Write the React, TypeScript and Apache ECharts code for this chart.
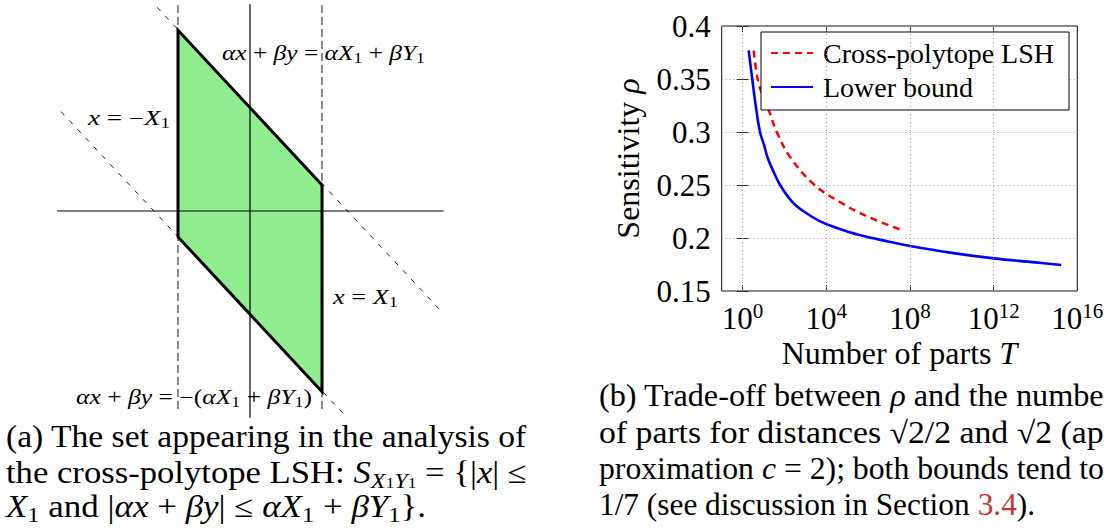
import React, { useEffect, useRef } from 'react';
import * as echarts from 'echarts';

const SERIF = 'Liberation Serif, serif';
const LINK_RED = '#c83232';

// ---- Trade-off plot: exponent log10(T) against sensitivity rho ----
const lowerBoundLogT = [0.29, 0.46, 0.62, 0.83, 1.02, 1.2, 1.47, 1.79, 2.35, 2.91, 3.71, 4.51, 5.63, 7.0, 8.0, 10.0, 12.0, 14.0, 15.23];
const lowerBoundRho = [0.377, 0.35, 0.326, 0.3, 0.288, 0.2755, 0.2629, 0.25, 0.2346, 0.2252, 0.2157, 0.2094, 0.2025, 0.1965, 0.1925, 0.186, 0.1808, 0.177, 0.1745];
const crossPolytopeLogT = [0.53, 0.72, 0.98, 1.28, 1.63, 2.3, 3.44, 4.59, 5.95, 7.55];
const crossPolytopeRho = [0.3767, 0.35, 0.333, 0.319, 0.3, 0.2755, 0.25, 0.2346, 0.2204, 0.2079];
const xTickExponents = [0, 4, 8, 12, 16];
const xGridExponents = [0, 4, 8, 12];
const LOGT_MIN = -1;
const LOGT_MAX = 16;
const RHO_MIN = 0.15;
const RHO_MAX = 0.4;
const RHO_STEP = 0.05;

// ---- The set S_{X1Y1} (units of X1 = 1) ----
const setVertexX = [-1, 1, 1, -1];
const setVertexY = [2.51, 0.36, -2.51, -0.36];
const xAxisLine = [[-2.68, 0], [2.69, 0]];
const yAxisLine = [[0, 2.87], [0, -2.87]];
const leftBoundLine = [[-1, 2.86], [-1, -2.79]];
const rightBoundLine = [[1, 2.86], [1, -2.79]];
const upperBandLine = [[-1.29, 2.83], [2.69, -1.43]];
const lowerBandLine = [[-2.625, 1.38], [1.34, -2.86]];

type Tok = [string, string];

const TOKEN_KIND: Record<string, { k: number; italic: boolean }> = {
  r: { k: 1, italic: false },
  i: { k: 1, italic: true },
  red: { k: 1, italic: false },
  sb: { k: 0.7, italic: false },
  isb: { k: 0.7, italic: true },
  ss: { k: 0.5, italic: false },
  p: { k: 1, italic: false },
};

let measureCtx: CanvasRenderingContext2D | null = null;
function measure(tokens: Tok[], size: number): number {
  if (!measureCtx) measureCtx = document.createElement('canvas').getContext('2d');
  let w = 0;
  for (const [kind, text] of tokens) {
    const d = TOKEN_KIND[kind];
    measureCtx!.font = `${d.italic ? 'italic ' : ''}${size * d.k}px ${SERIF}`;
    w += measureCtx!.measureText(text).width;
  }
  return w;
}

function richFor(size: number) {
  const L = size * 1.2;
  const base = { fontSize: size, lineHeight: L, fontFamily: SERIF, fill: '#000' };
  return {
    r: base,
    i: { ...base, fontStyle: 'italic' },
    red: { ...base, fill: LINK_RED },
    sb: { fontSize: size * 0.7, lineHeight: size * 0.7, verticalAlign: 'bottom', fontFamily: SERIF, fill: '#000' },
    isb: { fontSize: size * 0.7, lineHeight: size * 0.7, verticalAlign: 'bottom', fontFamily: SERIF, fontStyle: 'italic', fill: '#000' },
    ss: { fontSize: size * 0.5, lineHeight: size * 0.5, verticalAlign: 'bottom', fontFamily: SERIF, fill: '#000' },
  };
}

function richString(tokens: Tok[]) {
  return tokens.map(([k, t]) => (k === 'p' ? t : `{${k}|${t}}`)).join('');
}

function textEl(tokens: Tok[], size: number, x: number, cy: number, scaleX: number) {
  return {
    type: 'text',
    x,
    y: cy,
    scaleX,
    z: 20,
    silent: true,
    style: {
      text: richString(tokens),
      rich: richFor(size),
      fontSize: size,
      lineHeight: size * 1.2,
      fontFamily: SERIF,
      fill: '#000',
      align: 'left',
      textAlign: 'left',
      verticalAlign: 'middle',
      textVerticalAlign: 'middle',
    },
  };
}

// Caption and label texts
const capA: Tok[][] = [
  [['r', '(a) The set appearing in the analysis of']],
  [['r', 'the cross-polytope LSH: '], ['i', 'S'], ['isb', 'X'], ['ss', '1'], ['isb', 'Y'], ['ss', '1'], ['r', ' = {|'], ['i', 'x'], ['r', '| ≤']],
  [['i', 'X'], ['sb', '1'], ['r', ' and |'], ['i', 'αx'], ['r', ' + '], ['i', 'βy'], ['r', '| ≤ '], ['i', 'αX'], ['sb', '1'], ['r', ' + '], ['i', 'βY'], ['sb', '1'], ['p', '}.']],
];
const capB: Tok[][] = [
  [['r', '(b) Trade-off between '], ['i', 'ρ'], ['r', ' and the numbe']],
  [['r', 'of parts for distances √2/2 and √2 (ap']],
  [['r', 'proximation '], ['i', 'c'], ['r', ' = 2); both bounds tend to']],
  [['r', '1/7 (see discussion in Section '], ['red', '3.4'], ['r', ').']],
];
const labelUpper: Tok[] = [['i', 'αx'], ['r', ' + '], ['i', 'βy'], ['r', ' = '], ['i', 'αX'], ['sb', '1'], ['r', ' + '], ['i', 'βY'], ['sb', '1']];
const labelLeft: Tok[] = [['i', 'x'], ['r', ' = −'], ['i', 'X'], ['sb', '1']];
const labelRight: Tok[] = [['i', 'x'], ['r', ' = '], ['i', 'X'], ['sb', '1']];
const labelLower: Tok[] = [['i', 'αx'], ['r', ' + '], ['i', 'βy'], ['r', ' = −('], ['i', 'αX'], ['sb', '1'], ['r', ' + '], ['i', 'βY'], ['sb', '1'], ['r', ')']];

function segmentSeries(name: string, pts: number[][], color: string, width: number, type: any, z: number) {
  return {
    name,
    type: 'line',
    xAxisIndex: 0,
    yAxisIndex: 0,
    data: pts,
    symbol: 'none',
    silent: true,
    z,
    lineStyle: { color, width, type },
  };
}

function buildOption() {
  const CAP = 31;
  const LBL = 20;
  const COLUMN = 521;
  const scaleA1 = COLUMN / measure(capA[0], CAP);
  const scaleA2 = COLUMN / measure(capA[1], CAP);
  const scaleA3 = 420 / measure(capA[2], CAP);
  const scaleB1 = 505 / measure(capB[0], CAP);
  const scaleB2 = 505 / measure(capB[1], CAP);
  const scaleB3 = 505 / measure(capB[2], CAP);
  const scaleB4 = 436 / measure(capB[3], CAP);
  const capCenter = (baseline: number) => baseline - 0.305 * CAP;
  const lblCenter = (baseline: number) => baseline - 0.305 * LBL;

  const graphics = [
    textEl(capA[0], CAP, 6, capCenter(446), scaleA1),
    textEl(capA[1], CAP, 6, capCenter(482), scaleA2),
    textEl(capA[2], CAP, 6, capCenter(516.5), scaleA3),
    textEl(capB[0], CAP, 599, capCenter(405), scaleB1),
    textEl(capB[1], CAP, 599, capCenter(441.5), scaleB2),
    textEl(capB[2], CAP, 599, capCenter(478), scaleB3),
    textEl(capB[3], CAP, 599, capCenter(514), scaleB4),
    textEl(labelUpper, LBL, 222, lblCenter(59.3), 203 / measure(labelUpper, LBL)),
    textEl(labelLeft, LBL, 88, lblCenter(124), 82 / measure(labelLeft, LBL)),
    textEl(labelRight, LBL, 333, lblCenter(303.3), 65 / measure(labelRight, LBL)),
    textEl(labelLower, LBL, 76, lblCenter(403.3), 236 / measure(labelLower, LBL)),
  ];

  const setPolygon = (fill: string, stroke: string, lineWidth: number, z: number) => ({
    type: 'custom',
    xAxisIndex: 0,
    yAxisIndex: 0,
    silent: true,
    z,
    data: setVertexX.map((x, i) => [x, setVertexY[i]]),
    renderItem: (params: any, api: any) => {
      if (params.dataIndex !== 0) return null;
      const points = setVertexX.map((x, i) => api.coord([x, setVertexY[i]]));
      return {
        type: 'polygon',
        shape: { points },
        style: { fill, stroke, lineWidth, lineJoin: 'miter' },
      };
    },
  });

  const tickColor = '#333';
  const gridLineStyle = { color: '#9a9a9a', width: 1, type: [1, 3] };
  const xLabelRich = {
    b: { fontSize: 31, lineHeight: 37, fontFamily: SERIF, color: '#000' },
    s: { fontSize: 21, lineHeight: 21, verticalAlign: 'top', fontFamily: SERIF, color: '#000' },
  };
  const nameRich = {
    r: { fontSize: 32, lineHeight: 38, fontFamily: SERIF, color: '#000' },
    i: { fontSize: 32, lineHeight: 38, fontFamily: SERIF, fontStyle: 'italic', color: '#000' },
  };

  return {
    animation: false,
    backgroundColor: '#fff',
    textStyle: { fontFamily: SERIF },
    grid: [
      { left: 41.2, top: 2.2, width: 417.6, height: 417.6, show: false },
      { left: 721.7, top: 26, width: 355.6, height: 265, show: true, borderColor: '#111', borderWidth: 1, backgroundColor: 'transparent' },
    ],
    xAxis: [
      { gridIndex: 0, type: 'value', min: -2.9, max: 2.9, show: false },
      {
        gridIndex: 1,
        type: 'value',
        min: LOGT_MIN,
        max: LOGT_MAX,
        axisLine: { show: false },
        axisTick: { show: true, inside: true, length: 6, customValues: xTickExponents, lineStyle: { color: tickColor } },
        axisLabel: {
          customValues: xTickExponents,
          formatter: (v: number) => `{b|10}{s|${v}}`,
          rich: xLabelRich,
          margin: 9,
        },
        splitLine: { show: false },
        name: '{r|Number of parts }{i|T}',
        nameLocation: 'middle',
        nameGap: 43,
        nameTextStyle: { rich: nameRich },
      },
      {
        gridIndex: 1,
        type: 'value',
        position: 'top',
        min: LOGT_MIN,
        max: LOGT_MAX,
        axisLine: { show: false },
        axisTick: { show: true, inside: true, length: 6, customValues: xTickExponents, lineStyle: { color: tickColor } },
        axisLabel: { show: false },
        splitLine: { show: false },
      },
    ],
    yAxis: [
      { gridIndex: 0, type: 'value', min: -2.9, max: 2.9, show: false },
      {
        gridIndex: 1,
        type: 'value',
        min: RHO_MIN,
        max: RHO_MAX,
        interval: RHO_STEP,
        axisLine: { show: false },
        axisTick: { show: true, inside: true, length: 6, lineStyle: { color: tickColor } },
        axisLabel: { fontSize: 31, fontFamily: SERIF, color: '#000', margin: 11 },
        splitLine: { show: true, lineStyle: gridLineStyle },
        name: '{r|Sensitivity }{i|ρ}',
        nameLocation: 'middle',
        nameRotate: 90,
        nameGap: 75,
        nameTextStyle: { rich: nameRich },
      },
      {
        gridIndex: 1,
        type: 'value',
        position: 'right',
        min: RHO_MIN,
        max: RHO_MAX,
        interval: RHO_STEP,
        axisLine: { show: false },
        axisTick: { show: true, inside: true, length: 6, lineStyle: { color: tickColor } },
        axisLabel: { show: false },
        splitLine: { show: false },
      },
    ],
    legend: {
      data: ['Cross-polytope LSH', 'Lower bound'],
      orient: 'vertical',
      left: 761,
      top: 32,
      padding: [6, 15, 8, 9],
      itemGap: 4,
      itemWidth: 42,
      itemHeight: 14,
      backgroundColor: '#fff',
      borderColor: '#000',
      borderWidth: 1,
      selectedMode: false,
      itemStyle: { opacity: 0 },
      textStyle: { fontFamily: SERIF, fontSize: 28, lineHeight: 30, color: '#000', padding: [0, 0, 0, 5] },
    },
    series: [
      setPolygon('#90ee90', 'none', 0, 1),
      segmentSeries('x-axis', xAxisLine, '#000', 1.2, 'solid', 3),
      segmentSeries('y-axis', yAxisLine, '#000', 1.2, 'solid', 3),
      segmentSeries('x=-X1', leftBoundLine, '#5a5a5a', 1.4, [8, 4], 2),
      segmentSeries('x=X1', rightBoundLine, '#5a5a5a', 1.4, [8, 4], 2),
      segmentSeries('upper band', upperBandLine, '#222', 1, [5, 7], 2),
      segmentSeries('lower band', lowerBandLine, '#222', 1, [5, 7], 2),
      setPolygon('none', '#000', 3, 5),
      {
        name: 'Cross-polytope LSH',
        type: 'line',
        xAxisIndex: 1,
        yAxisIndex: 1,
        data: crossPolytopeLogT.map((x, i) => [x, crossPolytopeRho[i]]),
        symbol: 'none',
        smooth: 0.4,
        z: 3,
        lineStyle: { color: '#ff0000', width: 2.5, type: [7, 5] },
        itemStyle: { color: '#ff0000' },
        markLine: {
          silent: true,
          symbol: ['none', 'none'],
          label: { show: false },
          lineStyle: gridLineStyle,
          data: xGridExponents.map((v) => ({ xAxis: v })),
        },
      },
      {
        name: 'Lower bound',
        type: 'line',
        xAxisIndex: 1,
        yAxisIndex: 1,
        data: lowerBoundLogT.map((x, i) => [x, lowerBoundRho[i]]),
        symbol: 'none',
        smooth: 0.4,
        z: 4,
        lineStyle: { color: '#0000ff', width: 2.6, type: 'solid' },
        itemStyle: { color: '#0000ff' },
      },
    ],
    graphic: graphics,
  };
}

export default function App() {
  const ref = useRef<HTMLDivElement>(null);
  useEffect(() => {
    const chart = echarts.init(ref.current!, undefined, { renderer: 'svg' });
    chart.setOption(buildOption() as any);
    return () => chart.dispose();
  }, []);
  return (
    <div
      ref={ref}
      style={{ position: 'fixed', left: 0, top: 0, width: 1107, height: 531, background: '#fff' }}
    />
  );
}
